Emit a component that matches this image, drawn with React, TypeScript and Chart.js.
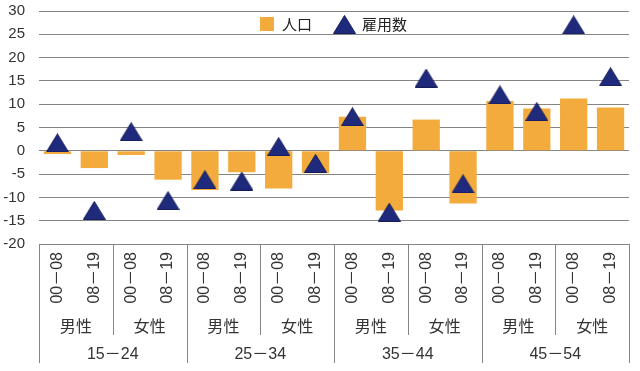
import React, { useEffect, useRef } from "react";
import { Chart, registerables } from "chart.js";

Chart.register(...registerables);

// ---- data ----
const periodLabels = [
  "00－08", "08－19", "00－08", "08－19",
  "00－08", "08－19", "00－08", "08－19",
  "00－08", "08－19", "00－08", "08－19",
  "00－08", "08－19", "00－08", "08－19",
];
const sexLabels = ["男性", "女性", "男性", "女性", "男性", "女性", "男性", "女性"];
const ageLabels = ["15－24", "25－34", "35－44", "45－54"];
const seriesNames = ["人口", "雇用数"];
const populationValues = [-0.7, -3.7, -0.9, -6.2, -8.4, -4.6, -8.1, -4.8, 7.3, -12.8, 6.7, -11.3, 10.7, 9.1, 11.2, 9.3];
const employmentValues = [1.7, -12.8, 4.1, -10.7, -6.2, -6.5, 0.9, -2.7, 7.3, -13.2, 15.6, -7.1, 12.0, 8.4, 27.0, 15.9];
const yMin = -20;
const yMax = 30;
const yStep = 5;

// ---- styles ----
const FONT = "'Liberation Sans', 'Noto Sans CJK JP', sans-serif";
const CJK = "'Noto Sans CJK JP', sans-serif";
const BAR_COLOR = "#F2AB3C";
const TRI_COLOR = "#1F2A7C";
const TRI_EDGE = "#151d5a";
const GRID = "#858585";
const TEXT = "#333333";

function makeTriangle(w: number, h: number): HTMLCanvasElement {
  const c = document.createElement("canvas");
  c.width = w;
  c.height = h;
  const ctx = c.getContext("2d")!;
  ctx.beginPath();
  ctx.moveTo(w / 2, 0.5);
  ctx.lineTo(w - 0.5, h - 0.5);
  ctx.lineTo(0.5, h - 0.5);
  ctx.closePath();
  ctx.fillStyle = TRI_COLOR;
  ctx.fill();
  ctx.strokeStyle = TRI_EDGE;
  ctx.lineWidth = 1;
  ctx.stroke();
  return c;
}

function zeroPad(s: any) {
  s.paddingLeft = 0;
  s.paddingRight = 0;
  s.paddingTop = 0;
  s.paddingBottom = 0;
}

export default function App() {
  const ref = useRef<HTMLCanvasElement | null>(null);

  useEffect(() => {
    if (!ref.current) return;
    const tri = makeTriangle(23, 19);

    const separators = {
      id: "separators",
      afterDraw(chart: any) {
        const { ctx } = chart;
        const xs = chart.scales.x;
        const sexBottom = chart.scales.xSex.bottom;
        const ageBottom = chart.scales.xAge.bottom;
        const n = periodLabels.length;
        ctx.save();
        ctx.strokeStyle = GRID;
        ctx.lineWidth = 1;
        for (let i = 0; i <= n; i += 2) {
          const px = Math.round(xs.getPixelForValue(i - 0.5)) + 0.5;
          const bottom = i % 4 === 0 ? ageBottom : sexBottom;
          ctx.beginPath();
          ctx.moveTo(px, xs.top);
          ctx.lineTo(px, bottom);
          ctx.stroke();
        }
        ctx.restore();
      },
    };

    const legend = {
      id: "customLegend",
      afterDraw(chart: any) {
        const { ctx, chartArea } = chart;
        ctx.save();
        ctx.font = `15px ${CJK}`;
        const w1 = ctx.measureText(seriesNames[0]).width;
        const w2 = ctx.measureText(seriesNames[1]).width;
        const box = 14, gapText = 8, gapItem = 21, gapTri = 6;
        const total = box + gapText + w1 + gapItem + tri.width + gapTri + w2;
        let x = Math.round((chartArea.left + chartArea.right) / 2 - total / 2);
        const cy = chartArea.top + 13;
        ctx.fillStyle = BAR_COLOR;
        ctx.fillRect(x, cy - box / 2, box, box);
        x += box + gapText;
        ctx.fillStyle = "#222";
        ctx.textBaseline = "middle";
        ctx.textAlign = "left";
        ctx.fillText(seriesNames[0], x, cy);
        x += w1 + gapItem;
        ctx.drawImage(tri, x, Math.round(cy - tri.height / 2));
        x += tri.width + gapTri;
        ctx.fillText(seriesNames[1], x, cy);
        ctx.restore();
      },
    };

    const tickFont = { family: FONT, size: 16 };

    const chart = new Chart(ref.current, {
      type: "bar",
      data: {
        labels: periodLabels,
        datasets: [
          {
            type: "line",
            label: seriesNames[1],
            data: employmentValues,
            showLine: false,
            pointStyle: tri as any,
            pointRadius: 10,
            backgroundColor: TRI_COLOR,
            borderColor: TRI_COLOR,
            order: 0,
          } as any,
          {
            type: "bar",
            label: seriesNames[0],
            data: populationValues,
            backgroundColor: BAR_COLOR,
            borderWidth: 0,
            barPercentage: 0.74,
            categoryPercentage: 1,
            order: 1,
          },
        ],
      },
      options: {
        responsive: false,
        animation: false,
        layout: { padding: { top: 9, right: 6, bottom: 8, left: 0 } },
        plugins: { legend: { display: false }, tooltip: { enabled: false } },
        scales: {
          x: {
            type: "category",
            position: "bottom",
            weight: 0,
            offset: true,
            grid: { display: false, drawTicks: false },
            border: { display: false },
            ticks: {
              autoSkip: false,
              minRotation: 90,
              maxRotation: 90,
              padding: 8,
              font: tickFont,
              color: TEXT,
            },
            afterFit(s: any) {
              s.height = 64;
              zeroPad(s);
            },
          },
          xSex: {
            type: "category",
            labels: sexLabels,
            position: "bottom",
            weight: 1,
            offset: true,
            grid: { display: false, drawTicks: false },
            border: { display: false },
            ticks: { autoSkip: false, minRotation: 0, maxRotation: 0, padding: 10, font: tickFont, color: TEXT },
            afterFit(s: any) {
              s.height = 27;
              zeroPad(s);
            },
          },
          xAge: {
            type: "category",
            labels: ageLabels,
            position: "bottom",
            weight: 2,
            offset: true,
            grid: { display: false, drawTicks: false },
            border: { display: false },
            ticks: { autoSkip: false, minRotation: 0, maxRotation: 0, padding: 10, font: tickFont, color: TEXT },
            afterFit(s: any) {
              s.height = 28;
              zeroPad(s);
            },
          },
          y: {
            min: yMin,
            max: yMax,
            ticks: { stepSize: yStep, padding: 14, font: { family: FONT, size: 15 }, color: TEXT },
            grid: { color: GRID, drawTicks: false },
            border: { display: false },
            afterFit(s: any) {
              s.width = 39;
              zeroPad(s);
            },
          },
        } as any,
      },
      plugins: [separators, legend],
    } as any);

    return () => chart.destroy();
  }, []);

  return (
    <div style={{ position: "absolute", left: 0, top: 0, width: 640, height: 371, background: "#fff" }}>
      <canvas ref={ref} width={640} height={371} style={{ display: "block" }} />
    </div>
  );
}
